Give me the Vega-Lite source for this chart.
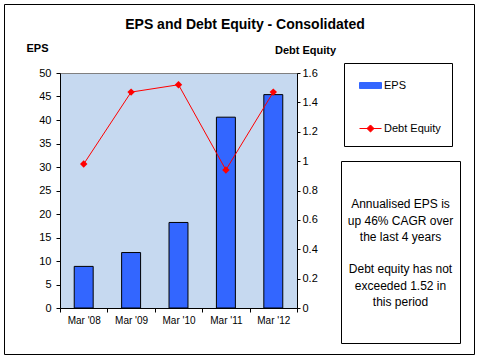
{
  "$schema": "https://vega.github.io/schema/vega-lite/v6.json",
  "background": "white",
  "padding": {"left": 3, "top": 3, "right": 3, "bottom": 3},
  "config": {"font": "Liberation Sans"},
  "title": {
    "text": "EPS and Debt Equity - Consolidated",
    "fontSize": 14,
    "font": "Liberation Sans",
    "fontWeight": "bold",
    "color": "black",
    "anchor": "middle",
    "baseline": "middle",
    "dx": 6,
    "dy": 15,
    "offset": -20.5
  },
  "bounds": "flush",
  "spacing": 44,
  "hconcat": [
    {
      "width": 237,
      "height": 235,
      "view": {"fill": "#c6d9f0", "stroke": "#808080"},
      "data": {
        "values": [
          {"year": "Mar '08", "eps": 8.85, "de": 0.98},
          {"year": "Mar '09", "eps": 11.8, "de": 1.47},
          {"year": "Mar '10", "eps": 18.2, "de": 1.52},
          {"year": "Mar '11", "eps": 40.6, "de": 0.94},
          {"year": "Mar '12", "eps": 45.4, "de": 1.47}
        ]
      },
      "encoding": {
        "x": {
          "field": "year",
          "type": "nominal",
          "sort": null,
          "scale": {"paddingInner": 0, "paddingOuter": 0},
          "axis": {
            "title": null,
            "labelAngle": 0,
            "tickBand": "extent",
            "domainColor": "black",
            "tickColor": "black",
            "tickSize": 4,
            "labelPadding": 3,
            "labelFontSize": 10,
            "labelColor": "black",
            "labelFont": "Liberation Sans"
          }
        }
      },
      "layer": [
        {
          "mark": {"type": "bar", "width": {"band": 0.4}, "stroke": "black", "strokeWidth": 1},
          "encoding": {
            "y": {
              "field": "eps",
              "type": "quantitative",
              "scale": {"domain": [0, 50]},
              "axis": {
                "title": "EPS",
                "titleAngle": 0,
                "titleAlign": "center",
                "titleBaseline": "middle",
                "titleX": -23,
                "titleY": -25,
                "titleFontSize": 11,
                "titleFont": "Liberation Sans",
                "titleFontWeight": "bold",
                "titleColor": "black",
                "values": [0, 5, 10, 15, 20, 25, 30, 35, 40, 45, 50],
                "grid": false,
                "domainColor": "black",
                "tickColor": "black",
                "tickSize": 4,
                "labelPadding": 5,
                "labelFontSize": 11,
                "labelColor": "black",
                "labelFont": "Liberation Sans"
              }
            },
            "color": {
              "datum": "EPS",
              "scale": {"domain": ["EPS", "Debt Equity"], "range": ["#3366ff", "#ff0000"]},
              "legend": {
                "title": null,
                "orient": "none",
                "legendX": 284,
                "legendY": -10,
                "padding": 11,
                "rowPadding": 26,
                "symbolSize": 484,
                "symbolOffset": 4,
                "labelOffset": 2,
                "labelFontSize": 11,
                "labelFont": "Liberation Sans",
                "labelColor": "black",
                "strokeColor": "black",
                "fillColor": "white",
                "symbolStrokeWidth": 1,
                "encoding": {
                  "symbols": {
                    "shape": {"condition": {"test": "datum.value === 'EPS'", "value": "M-1,-0.27H1V0.27H-1Z"}, "value": "M-1,0H1M0,-0.32L0.32,0L0,0.32L-0.32,0Z"},
                    "fill": {"condition": {"test": "datum.value === 'EPS'", "value": "#3366ff"}, "value": "#ff0000"},
                    "stroke": {"condition": {"test": "datum.value === 'EPS'", "value": "#000000"}, "value": "#ff0000"},
                    "strokeWidth": {"value": 1},
                    "opacity": {"value": 1}
                  }
                }
              }
            }
          }
        },
        {
          "mark": {"type": "line", "strokeWidth": 1, "point": {"shape": "diamond", "size": 55, "filled": true}},
          "encoding": {
            "y": {
              "field": "de",
              "type": "quantitative",
              "scale": {"domain": [0, 1.6]},
              "axis": {
                "orient": "right",
                "title": "Debt Equity",
                "titleAngle": 0,
                "titleAlign": "center",
                "titleBaseline": "middle",
                "titleX": 8,
                "titleY": -23,
                "titleFontSize": 11,
                "titleFont": "Liberation Sans",
                "titleFontWeight": "bold",
                "titleColor": "black",
                "values": [0, 0.2, 0.4, 0.6, 0.8, 1, 1.2, 1.4, 1.6],
                "format": "~g",
                "grid": false,
                "domainColor": "black",
                "tickColor": "black",
                "tickSize": 3,
                "labelPadding": 2,
                "labelFontSize": 11,
                "labelColor": "black",
                "labelFont": "Liberation Sans"
              }
            },
            "color": {"datum": "Debt Equity"}
          }
        }
      ],
      "resolve": {"scale": {"y": "independent"}}
    },
    {
      "bounds": "flush",
      "spacing": 10,
      "vconcat": [
        {
          "width": 119,
          "height": 78,
          "view": {"stroke": null, "fill": null},
          "data": {"values": [{"blank": ""}]},
          "mark": {"type": "text"},
          "encoding": {"text": {"field": "blank"}}
        },
        {
          "width": 119,
          "height": 182,
          "view": {"stroke": "black", "fill": "white"},
          "data": {"values": [
            {"panel": "Summary", "para": 1, "lines": ["Annualised EPS is", "up 46% CAGR over", "the last 4 years"]},
            {"panel": "Summary", "para": 2, "lines": ["Debt equity has not", "exceeded 1.52 in", "this period"]}
          ]},
          "mark": {"type": "text", "fontSize": 12, "lineHeight": 16.5, "align": "center", "baseline": "middle", "dy": -15.5, "color": "black", "font": "Liberation Sans"},
          "encoding": {
            "x": {"field": "panel", "type": "nominal", "axis": null},
            "y": {"field": "para", "type": "ordinal", "axis": null, "scale": {"type": "point", "padding": 0.9}},
            "text": {"field": "lines"},
            "stroke": {
              "datum": 1,
              "type": "quantitative",
              "scale": {"domain": [0, 1], "range": ["transparent", "transparent"]},
              "legend": {
                "type": "gradient",
                "direction": "vertical",
                "orient": "none",
                "legendX": -56,
                "legendY": -69,
                "title": null,
                "padding": 0,
                "gradientLength": 350,
                "gradientThickness": 470,
                "gradientStrokeWidth": 0,
                "labelExpr": "''",
                "labelOffset": 0,
                "labelFontSize": 1,
                "labelOpacity": 0,
                "strokeColor": "black",
                "fillColor": null
              }
            }
          }
        }
      ]
    }
  ]
}
